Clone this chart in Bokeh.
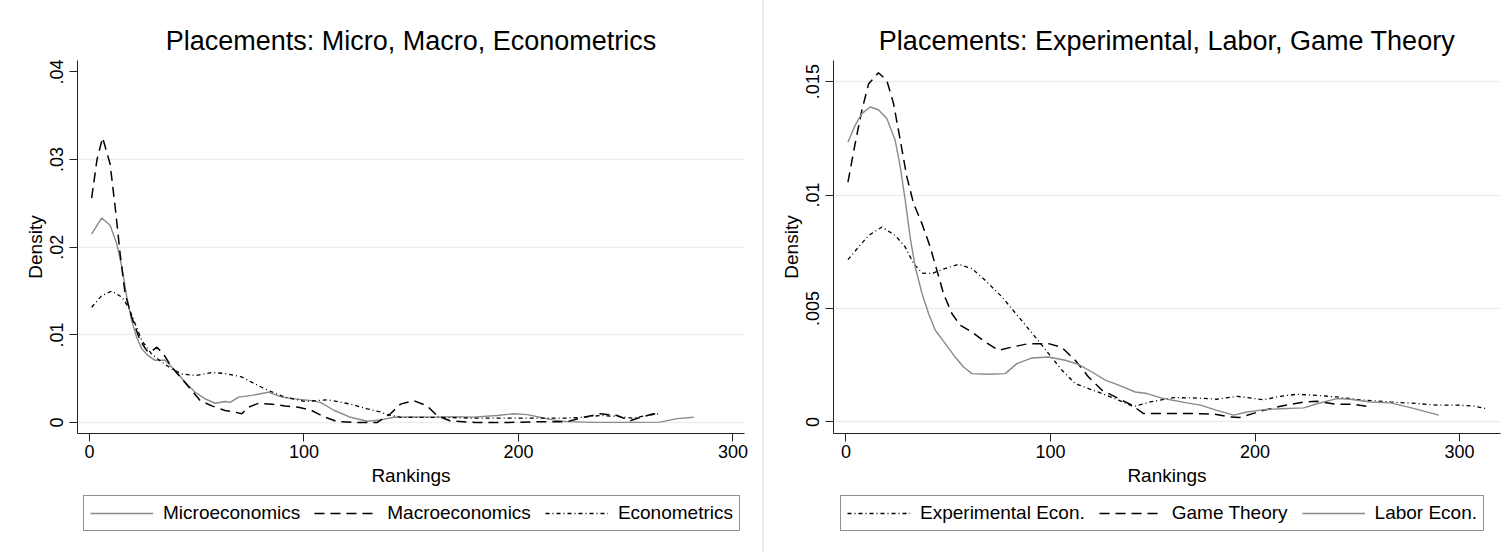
from bokeh.plotting import figure
from bokeh.models import Legend, LegendItem, FixedTicker, Range1d
from bokeh.layouts import row, column
from bokeh.embed import file_html
from bokeh.resources import INLINE

# ---------------- data ----------------
micro_x = [1, 5.7, 9.6, 12.7, 15.1, 17.4, 19.7, 22, 24.4, 27.5, 30.6, 35.3, 40, 44.6, 49.3, 53.9,
           58.6, 63.2, 65.6, 69.5, 75.7, 83.4, 89.7, 95.9, 103.6, 107.7, 113.9, 121.7, 129.5, 135.7,
           141.9, 150, 160, 170, 179, 190, 197.8, 204, 210, 216, 222.7, 235, 250, 266, 274, 281.7]
micro_y = [0.0215, 0.02334, 0.0225, 0.0204, 0.0177, 0.0143, 0.0116, 0.0097, 0.0084, 0.0076, 0.0071,
           0.0071, 0.0059, 0.0046, 0.00346, 0.0027, 0.0022, 0.0024, 0.0023, 0.0029, 0.0031, 0.00346,
           0.0029, 0.0027, 0.0025, 0.0023, 0.0014, 0.0006, 0.00015, 0.0003, 0.0006, 0.00065, 0.00062,
           0.00068, 0.00062, 0.0008, 0.001, 0.0009, 0.0006, 0.0003, 0.0001, 0.00002, 0.00002, 0.00005,
           0.00045, 0.0006]

macro_x = [1, 3.5, 6.1, 9.6, 12, 14.3, 16.6, 19.7, 23.6, 26.7, 28.3, 31.4, 34.5, 38.4, 43, 47.7,
           51.6, 57, 63.2, 67.9, 71, 74.1, 78.8, 85, 91.2, 97.4, 103.6, 109, 115.5, 125, 134, 140.3,
           145, 151.2, 157.4, 162, 168, 180, 195, 210, 222.7, 230.4, 238, 246, 252, 257, 263, 265]
macro_y = [0.0256, 0.0300, 0.0325, 0.0295, 0.0245, 0.0192, 0.0147, 0.0120, 0.00935, 0.0082, 0.0080,
           0.0086, 0.0078, 0.0063, 0.0050, 0.00365, 0.0025, 0.0019, 0.00137, 0.00118, 0.001, 0.00175,
           0.0022, 0.0021, 0.0019, 0.00175, 0.00137, 0.0007, 0.0001, 0.0, 0.0, 0.001, 0.0021, 0.0025,
           0.0019, 0.0008, 0.0002, 0.0, 0.0, 0.0001, 0.0001, 0.0006, 0.001, 0.0008, 0.0002, 0.0006,
           0.001, 0.0009]

econ_x = [1, 5.7, 10.4, 15.1, 18.2, 21.3, 24.4, 29, 33.7, 38.4, 43, 49.3, 57, 63.2, 71, 77.2, 83.4,
          91.2, 100.5, 106, 110.8, 121.7, 129.5, 135.7, 138.8, 145, 160, 180, 200, 222, 230, 238, 246,
          253, 260, 265.4]
econ_y = [0.01315, 0.01448, 0.0150, 0.0143, 0.01315, 0.01125, 0.00935, 0.0078, 0.0069, 0.0061, 0.00555,
          0.00536, 0.0057, 0.0056, 0.0052, 0.0044, 0.00365, 0.0029, 0.0024, 0.0025, 0.0026, 0.0021,
          0.00156, 0.0012, 0.0009, 0.0006, 0.0006, 0.0005, 0.0005, 0.0005, 0.0006, 0.0008, 0.0007,
          0.0005, 0.0008, 0.001]

exper_x = [1, 6.2, 11.1, 17.6, 24.1, 29, 33.1, 37.2, 42.1, 46.9, 55.1, 61.6, 68.1, 76.3, 84.4, 92.6,
           99.1, 105.6, 112.1, 118.6, 125.2, 133.3, 140.6, 148.8, 160.2, 170, 181.4, 191.2, 204.2,
           212.4, 220.5, 230.3, 240, 253.1, 266.2, 279.2, 289, 298.8, 307, 312.7]
exper_y = [0.00715, 0.00771, 0.00822, 0.00859, 0.00822, 0.00771, 0.00698, 0.00656, 0.00654, 0.00671,
           0.00695, 0.00676, 0.00624, 0.00551, 0.00463, 0.00374, 0.00301, 0.00228, 0.00169, 0.00147,
           0.00125, 0.00096, 0.00068, 0.00088, 0.00107, 0.00106, 0.001, 0.00113, 0.00098, 0.00113,
           0.00122, 0.00117, 0.0011, 0.00096, 0.00088, 0.00081, 0.00074, 0.00074, 0.0007, 0.00059]

game_x = [1, 4.5, 7.8, 11.1, 15.9, 20, 23.3, 26.6, 29.8, 33.1, 37.2, 41.2, 44.5, 47.7, 51.8, 55.9,
          61.6, 68.1, 74.6, 81.2, 89.3, 99.1, 105.6, 112.1, 118.6, 125.2, 133.3, 139.8, 145.5, 155,
          170, 179.8, 188, 192.7, 204.2, 212.4, 223.8, 230, 240, 248, 256.4]
game_y = [0.01057, 0.01226, 0.01373, 0.0149, 0.01539, 0.01505, 0.01403, 0.01241, 0.0108, 0.00962,
          0.00874, 0.00771, 0.00668, 0.00566, 0.00478, 0.00426, 0.00396, 0.00352, 0.00316, 0.0033,
          0.00345, 0.00345, 0.00328, 0.00272, 0.00198, 0.0014, 0.00103, 0.00074, 0.00037, 0.00037,
          0.00037, 0.00035, 0.00022, 0.0002, 0.00051, 0.00069, 0.00088, 0.00091, 0.00078, 0.00078,
          0.00066]

labor_x = [1, 4.5, 7.8, 11.9, 15.9, 20, 24.1, 26.6, 29, 31.4, 33.9, 37.2, 40.4, 43.7, 48.6, 53.4,
           57.5, 61.6, 69.7, 77.9, 83.6, 91, 99.1, 107.2, 113.7, 120.3, 126.8, 133.3, 141.5, 147.2,
           155.3, 166.7, 173.3, 181.4, 189.5, 196.1, 204.2, 212.4, 223.8, 230.3, 240, 246.6, 256.4,
           266.2, 276, 285.7, 289.8]
labor_y = [0.01233, 0.01307, 0.01359, 0.01388, 0.01376, 0.01337, 0.01241, 0.01123, 0.00977, 0.00815,
           0.00683, 0.00566, 0.00478, 0.00404, 0.00345, 0.00286, 0.00242, 0.00213, 0.0021, 0.00213,
           0.00257, 0.00282, 0.00286, 0.00272, 0.00254, 0.0022, 0.00184, 0.00162, 0.00132, 0.00125,
           0.00103, 0.00084, 0.00074, 0.00051, 0.0003, 0.00044, 0.00054, 0.00058, 0.00062, 0.0008,
           0.00103, 0.001, 0.00088, 0.00084, 0.00063, 0.0004, 0.0003]

x_ticks = [0, 100, 200, 300]
left_yticks = [0, 0.01, 0.02, 0.03, 0.04]
left_ylabels = ["0", ".01", ".02", ".03", ".04"]
right_yticks = [0, 0.005, 0.01, 0.015]
right_ylabels = ["0", ".005", ".01", ".015"]

FONT = "Liberation Sans"
GRID = "#e8eff1"
GRAY = "#8a8a8a"
SOLID = dict(line_color=GRAY, line_width=1.4)
DASH = dict(line_color="black", line_width=1.5, line_dash="10 6")
DASHDOT = dict(line_color="black", line_width=1.3, line_dash="4 3 1 3")


def make_panel(title, xr, yr, yticks, ylabels, ygrid_ticks, series, bl, br, width, leg_x):
    p = figure(frame_width=667, frame_height=373, width=width, height=493,
               min_border_left=bl, min_border_right=br, min_border_top=60, min_border_bottom=60,
               x_range=Range1d(*xr), y_range=Range1d(*yr),
               output_backend="svg", toolbar_location=None, title=title)
    p.title.text_font = FONT
    p.title.text_font_size = "27px"
    p.title.text_font_style = "normal"
    p.title.text_color = "black"
    p.title.align = "center"
    p.title.standoff = 10
    p.outline_line_color = None
    p.background_fill_color = "white"
    p.border_fill_color = "white"

    p.xaxis.ticker = FixedTicker(ticks=x_ticks)
    p.yaxis.ticker = FixedTicker(ticks=yticks)
    p.yaxis.major_label_overrides = {t: l for t, l in zip(yticks, ylabels)}
    p.yaxis.major_label_orientation = "vertical"
    for ax in (p.xaxis[0], p.yaxis[0]):
        ax.major_tick_in = 0
        ax.major_tick_out = 8
        ax.minor_tick_in = 0
        ax.minor_tick_out = 0
        ax.axis_line_color = "#222222"
        ax.major_tick_line_color = "#222222"
        ax.major_label_text_font = FONT
        ax.major_label_text_font_size = "18px"
        ax.major_label_text_color = "black"
        ax.axis_label_text_font = FONT
        ax.axis_label_text_font_size = "19px"
        ax.axis_label_text_font_style = "normal"
        ax.axis_label_text_color = "black"
    p.xaxis.major_label_standoff = 3
    p.yaxis.major_label_standoff = 6
    p.xaxis.axis_label = "Rankings"
    p.yaxis.axis_label = "Density"
    p.xaxis.axis_label_standoff = 4
    p.yaxis.axis_label_standoff = 2

    p.xgrid.visible = False
    p.ygrid.ticker = FixedTicker(ticks=ygrid_ticks)
    p.ygrid.grid_line_color = GRID
    p.ygrid.grid_line_width = 1.5

    for name, xs, ys, style in series:
        p.line(xs, ys, **style)

    # legend strip: the same series drawn outside its visible range, so only the legend shows
    lf = figure(width=width, height=59, min_border=0, x_range=Range1d(-1000, -999),
                y_range=Range1d(0, 1), output_backend="svg", toolbar_location=None)
    lf.axis.visible = False
    lf.grid.visible = False
    lf.outline_line_color = None
    lf.background_fill_color = "white"
    lf.border_fill_color = "white"
    items = []
    for name, xs, ys, style in series:
        r = lf.line(xs, ys, **style)
        items.append(LegendItem(label=name, renderers=[r]))
    leg = Legend(items=items, orientation="horizontal", location=(leg_x, 21),
                 glyph_width=63, glyph_height=20, label_standoff=10, spacing=14, padding=6,
                 margin=0, label_text_font=FONT, label_text_font_size="19px",
                 label_text_color="black", border_line_color="#222222", border_line_width=1,
                 background_fill_alpha=1)
    lf.add_layout(leg, "center")

    col = column(p, lf, spacing=0)
    col.styles = {"box-shadow": "0 0 0 1px #e4ebee"}
    return col


left = make_panel("Placements: Micro, Macro, Econometrics", (-5.6, 305.4), (-0.00125, 0.0413),
                  left_yticks, left_ylabels, [0, 0.01, 0.02, 0.03],
                  [("Microeconomics", micro_x, micro_y, SOLID),
                   ("Macroeconomics", macro_x, macro_y, DASH),
                   ("Econometrics", econ_x, econ_y, DASHDOT)],
                  77, 19, 763, 6)

right = make_panel("Placements: Experimental, Labor, Game Theory", (-6.06, 320), (-0.00051, 0.01593),
                   right_yticks, right_ylabels, right_yticks,
                   [("Experimental Econ.", exper_x, exper_y, DASHDOT),
                    ("Game Theory", game_x, game_y, DASH),
                    ("Labor Econ.", labor_x, labor_y, SOLID)],
                   70, 9, 746, 7)

layout = row(left, right, spacing=0)
open("out.html", "w").write(file_html(layout, INLINE))
